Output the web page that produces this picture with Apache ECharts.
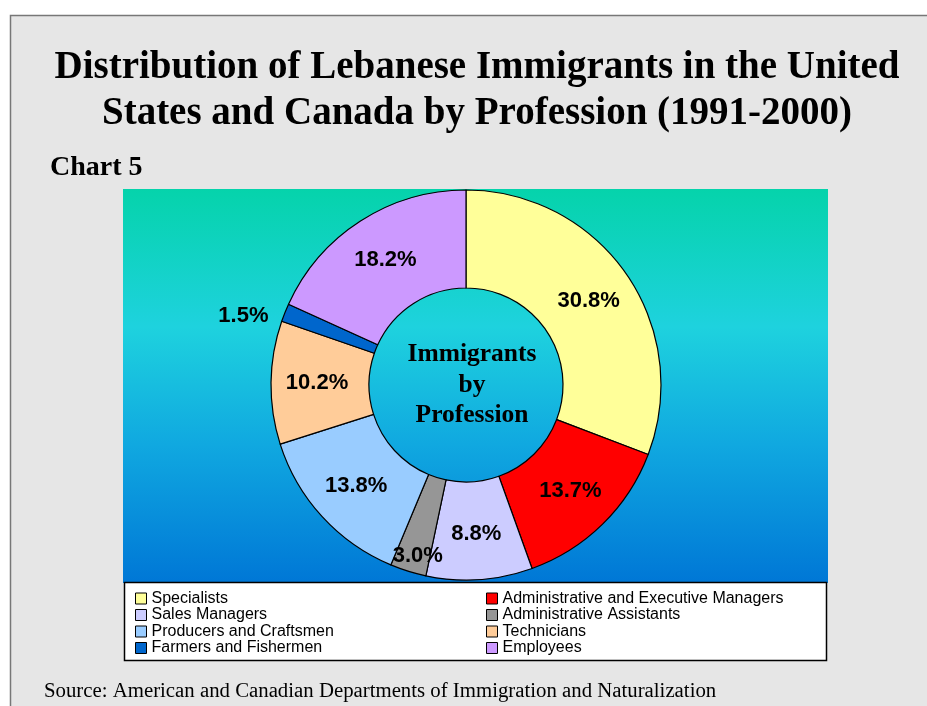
<!DOCTYPE html>
<html>
<head>
<meta charset="utf-8">
<script src="https://cdn.jsdelivr.net/npm/echarts@6/dist/echarts.min.js"></script>
<style>
  html, body { margin: 0; padding: 0; background: #fff; }
  #chart { width: 927px; height: 706px; }
</style>
</head>
<body>
<div id="chart"></div>
<script>
// 数据
const professions = [
  'Specialists',
  'Administrative and Executive Managers',
  'Sales Managers',
  'Administrative Assistants',
  'Producers and Craftsmen',
  'Technicians',
  'Farmers and Fishermen',
  'Employees'
]
const shares = [30.8, 13.7, 8.8, 3.0, 13.8, 10.2, 1.5, 18.2]
const colors = ['#ffff99', '#ff0000', '#ccccff', '#969696', '#99ccff', '#ffcc99', '#0066cc', '#cc99ff']

const leftColumn = [professions[0], professions[2], professions[4], professions[6]]
const rightColumn = [professions[1], professions[3], professions[5], professions[7]]

const chart = echarts.init(document.getElementById('chart'))

const serif = 'Liberation Serif, Times New Roman, serif'
const sans = 'Liberation Sans, Arial, sans-serif'

const legendBase = {
  orient: 'vertical',
  top: 590.5,
  itemWidth: 11,
  itemHeight: 11,
  itemGap: 0.5,
  padding: 0,
  icon: 'rect',
  selectedMode: false,
  itemStyle: { borderColor: '#000', borderWidth: 1 },
  textStyle: { fontFamily: sans, fontSize: 16, color: '#000' }
}

const option = {
  backgroundColor: '#fff',
  animation: false,
  color: colors,
  title: [
    {
      text: 'Distribution of Lebanese Immigrants in the United\nStates and Canada by Profession (1991-2000)',
      left: 472,
      top: 40,
      textAlign: 'center',
      textStyle: {
        fontFamily: serif,
        fontWeight: 'bold',
        fontSize: 39,
        lineHeight: 46,
        color: '#000'
      }
    },
    {
      text: 'Chart 5',
      left: 45,
      top: 149,
      textStyle: { fontFamily: serif, fontWeight: 'bold', fontSize: 28, color: '#000' }
    },
    {
      text: 'Source: American and Canadian Departments of Immigration and Naturalization',
      left: 39,
      top: 676,
      textStyle: { fontFamily: serif, fontWeight: 'normal', fontSize: 20.8, color: '#000' }
    }
  ],
  graphic: [
    // page frame
    {
      type: 'rect',
      z: -10,
      shape: { x: 10.5, y: 15.5, width: 940, height: 720 },
      style: { fill: '#e6e6e6', stroke: '#777', lineWidth: 1.5 }
    },
    // plot area
    {
      type: 'rect',
      z: -5,
      shape: { x: 123, y: 189, width: 705, height: 394 },
      style: {
        fill: new echarts.graphic.LinearGradient(0, 0, 0, 1, [
          { offset: 0, color: '#05d3ab' },
          { offset: 0.35, color: '#1ed2de' },
          { offset: 0.65, color: '#10a8e0' },
          { offset: 1, color: '#0077d6' }
        ])
      }
    },
    // legend box
    {
      type: 'rect',
      z: -1,
      shape: { x: 124.5, y: 582.5, width: 702, height: 78 },
      style: { fill: '#fff', stroke: '#000', lineWidth: 1.5 }
    },
    {
      type: 'text',
      z: 10,
      x: 472,
      y: 385,
      style: {
        text: 'Immigrants\nby\nProfession',
        textAlign: 'center',
        textVerticalAlign: 'middle',
        fontFamily: serif,
        fontWeight: 'bold',
        fontSize: 25.5,
        lineHeight: 30.5,
        fill: '#000'
      }
    }
  ],
  legend: [
    Object.assign({ data: leftColumn, left: 135 }, legendBase),
    Object.assign({ data: rightColumn, left: 486 }, legendBase)
  ],
  series: [
    {
      type: 'pie',
      center: [466, 385],
      radius: [97, 195],
      startAngle: 90,
      clockwise: true,
      avoidLabelOverlap: false,
      itemStyle: { borderColor: '#000', borderWidth: 1.2 },
      label: {
        show: true,
        position: 'inside',
        formatter: (p) => p.value.toFixed(1) + '%',
        fontFamily: sans,
        fontWeight: 'bold',
        fontSize: 22,
        color: '#000'
      },
      labelLine: { show: false },
      // nudge the two small-slice labels like the original
      labelLayout: (p) => {
        if (p.dataIndex === 3) return { dx: -4, dy: 29 }
        if (p.dataIndex === 6) return { dx: 4, dy: 11 }
        return {}
      },
      emphasis: { disabled: true },
      data: professions.map((name, i) => {
        const item = { name: name, value: shares[i] }
        if (i === 6) {
          item.label = { position: 'outside', distanceToLabelLine: 0 }
          item.labelLine = { show: false, length: 22, length2: 0 }
        }
        return item
      })
    }
  ]
}

chart.setOption(option)
</script>
</body>
</html>
